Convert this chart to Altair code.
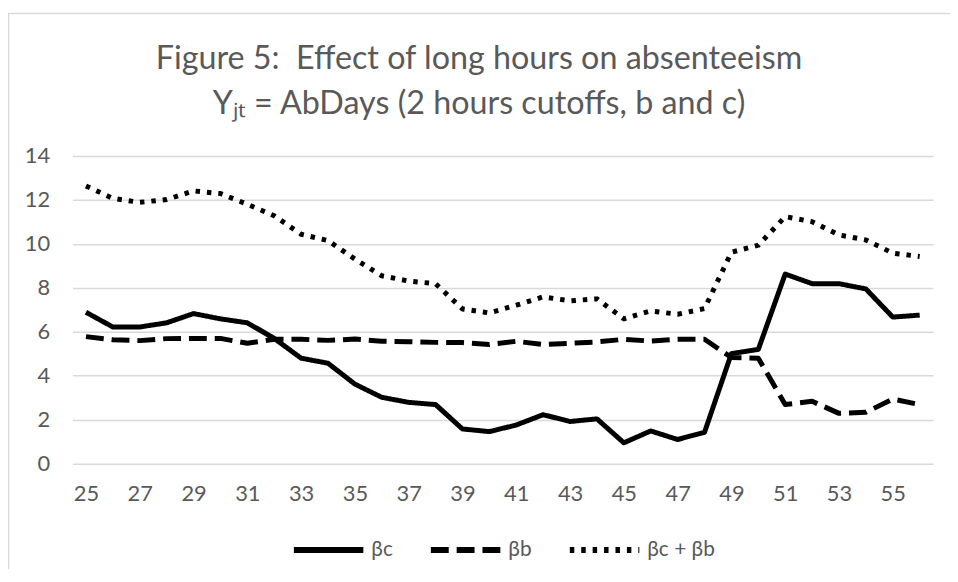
import altair as alt
import pandas as pd

# ---- data ----
hours = [25, 26, 27, 28, 29, 30, 31, 32, 33, 34, 35, 36, 37, 38, 39, 40,
         41, 42, 43, 44, 45, 46, 47, 48, 49, 50, 51, 52, 53, 54, 55, 56]

beta_c = [6.89, 6.22, 6.22, 6.41, 6.83, 6.59, 6.41, 5.70, 4.80, 4.57, 3.62, 3.02,
          2.79, 2.69, 1.58, 1.46, 1.76, 2.23, 1.92, 2.04, 0.95, 1.49, 1.10, 1.43,
          5.01, 5.20, 8.63, 8.19, 8.19, 7.95, 6.67, 6.76]

beta_b = [5.78, 5.64, 5.60, 5.69, 5.70, 5.70, 5.48, 5.66, 5.66, 5.61, 5.67, 5.57,
          5.55, 5.52, 5.51, 5.42, 5.57, 5.42, 5.48, 5.54, 5.66, 5.58, 5.66, 5.66,
          4.83, 4.80, 2.69, 2.84, 2.29, 2.34, 2.94, 2.69]

beta_sum = [12.64, 12.07, 11.89, 12.02, 12.41, 12.29, 11.80, 11.28, 10.44, 10.15,
            9.31, 8.55, 8.31, 8.19, 7.04, 6.86, 7.21, 7.59, 7.41, 7.50, 6.59, 6.95,
            6.80, 7.06, 9.62, 9.94, 11.24, 11.01, 10.41, 10.18, 9.58, 9.43]

series_names = ["βc", "βb", "βc + βb"]
x_tick_labels = [25, 27, 29, 31, 33, 35, 37, 39, 41, 43, 45, 47, 49, 51, 53, 55]
y_tick_values = [0, 2, 4, 6, 8, 10, 12, 14]

title_line1 = "Figure 5: \u00a0Effect of long hours on absenteeism"
title_line2 = "Yⱼₜ = AbDays (2 hours cutoffs, b and c)"

rows = []
for name, vals in zip(series_names, [beta_c, beta_b, beta_sum]):
    for h, v in zip(hours, vals):
        rows.append({"hours": h, "value": v, "series": name})
df = pd.DataFrame(rows)

GRAY = "#595959"
GRID = "#d9d9d9"
FONT = "Lato"

lines = alt.Chart(df).mark_line(color="black", strokeWidth=5, strokeJoin="round").encode(
    x=alt.X("hours:O",
            scale=alt.Scale(type="point", padding=0.5),
            axis=alt.Axis(values=x_tick_labels, labelAngle=0, title=None, ticks=False,
                          domain=False, grid=False, labelPadding=20, labelFontSize=22,
                          labelColor=GRAY, labelFont=FONT)),
    y=alt.Y("value:Q",
            scale=alt.Scale(domain=[0, 14], nice=False),
            axis=alt.Axis(values=y_tick_values, title=None, ticks=False, domain=False,
                          gridColor=GRID, gridWidth=1.5, labelPadding=23, labelFontSize=22,
                          labelColor=GRAY, labelFont=FONT)),
    strokeDash=alt.StrokeDash(
        "series:N",
        sort=series_names,
        scale=alt.Scale(domain=series_names, range=[[1, 0], [18, 8], [4.5, 7]]),
        legend=alt.Legend(title=None, orient="none", legendX=220, legendY=359,
                          direction="horizontal", symbolType="stroke", symbolSize=4900,
                          symbolStrokeWidth=6, symbolStrokeColor="black",
                          labelFontSize=21, labelFont=FONT, labelColor=GRAY,
                          labelOffset=5, columnPadding=26)),
)

one = pd.DataFrame({"a": [0]})
top_border = alt.Chart(one).mark_rule(stroke=GRID, strokeWidth=1.5, clip=False).encode(
    x=alt.value(-65), x2=alt.value(890), y=alt.value(-143.5)
)
left_border = alt.Chart(one).mark_rule(stroke=GRID, strokeWidth=1.5, clip=False).encode(
    x=alt.value(-64.5), y=alt.value(-143.5), y2=alt.value(420)
)

chart = alt.layer(top_border, left_border, lines).properties(
    width=867,
    height=310,
    autosize=alt.AutoSizeParams(type="none"),
    padding={"left": 65, "top": 147, "right": 17, "bottom": 104},
    title=alt.TitleParams(
        text=title_line1,
        subtitle=title_line2,
        font=FONT, fontSize=32.5, fontWeight="normal", color=GRAY,
        subtitleFont=FONT, subtitleFontSize=32.5, subtitleColor=GRAY,
        subtitlePadding=12, anchor="middle", dx=-24, offset=-108,
    ),
).configure_view(stroke=None)

chart.save("out.html", embed_options={"renderer": "svg", "actions": False})
